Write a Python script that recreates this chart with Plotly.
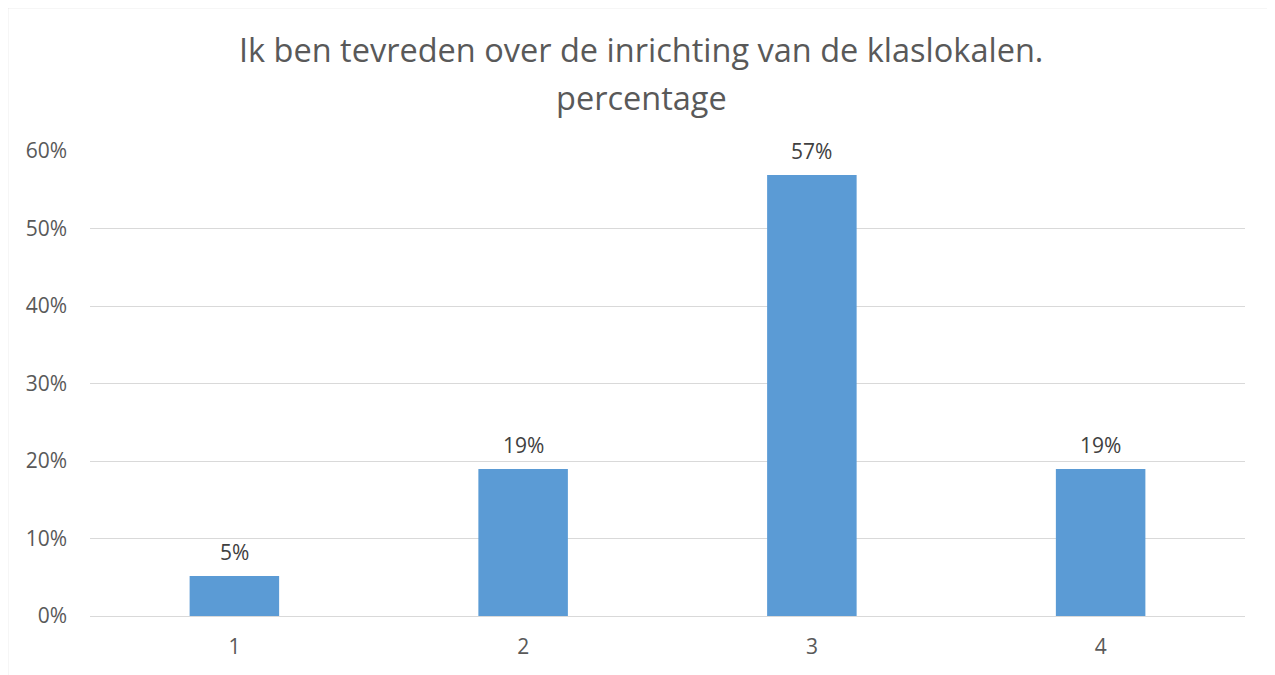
import plotly.graph_objects as go

categories = ["1", "2", "3", "4"]
values = [0.0517, 0.1897, 0.569, 0.1897]
labels = ["5%", "19%", "57%", "19%"]
y_ticks = [0, 0.1, 0.2, 0.3, 0.4, 0.5, 0.6]
y_ticktext = ["0%", "10%", "20%", "30%", "40%", "50%", "60%"]
title_line1 = "Ik ben tevreden over de inrichting van de klaslokalen."
title_line2 = "percentage"

OFF = 8  # browser body margin
W, H = 1275 - OFF, 675 - OFF
L, R, T, B = 90 - OFF, 30, 151 - OFF, 59
pw, ph = W - L - R, H - T - B

def px_x(x):
    return (x - OFF - L) / pw

def px_y(y):
    return (H - B - (y - OFF)) / ph

font = "Open Sans"
fig = go.Figure()
fig.add_trace(go.Bar(
    x=categories, y=values, marker=dict(color="#5b9bd5", line=dict(width=0)),
    hoverinfo="skip",
))
for i, (v, t) in enumerate(zip(values, labels)):
    fig.add_annotation(x=i, y=v, text=t, showarrow=False, yshift=24,
                       yanchor="middle", font=dict(family=font, size=21, color="#404040"))

fig.add_annotation(xref="paper", yref="paper", x=px_x(641), y=px_y(50), text=title_line1,
                   showarrow=False, xanchor="center", yanchor="middle",
                   font=dict(family=font, size=32.5, color="#595959"))
fig.add_annotation(xref="paper", yref="paper", x=px_x(641), y=px_y(98), text=title_line2,
                   showarrow=False, xanchor="center", yanchor="middle",
                   font=dict(family=font, size=32.5, color="#595959"))

# chart border
fig.add_shape(type="rect", xref="paper", yref="paper",
              x0=px_x(7.5), x1=px_x(1274), y0=px_y(7.5), y1=px_y(700),
              line=dict(color="#d9d9d9", width=1.5), fillcolor="rgba(0,0,0,0)", layer="below")

fig.update_layout(
    width=W, height=H, margin=dict(l=L, r=R, t=T, b=B),
    paper_bgcolor="white", plot_bgcolor="white",
    bargap=0.69, showlegend=False,
    font=dict(family=font, color="#595959"),
)
fig.update_xaxes(type="category", range=[-0.5, 3.5], showgrid=False, showline=False, zeroline=False,
                 ticks="", tickfont=dict(family=font, size=21, color="#595959"),
                 ticklabelstandoff=16)
fig.update_yaxes(range=[0, 0.6], tickvals=y_ticks, ticktext=y_ticktext,
                 showgrid=True, gridcolor="#d9d9d9", gridwidth=1,
                 zeroline=True, zerolinecolor="#d9d9d9", zerolinewidth=1,
                 showline=False, ticks="",
                 tickfont=dict(family=font, size=21, color="#595959"),
                 ticklabelstandoff=22)

fig.write_html("out.html")
